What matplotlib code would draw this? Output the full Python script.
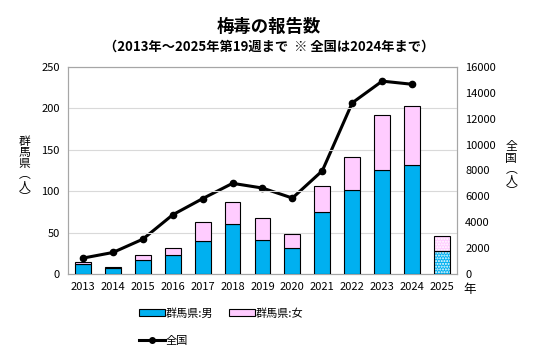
import matplotlib.pyplot as plt
from matplotlib.lines import Line2D
from matplotlib.patches import Patch

plt.rcParams['font.family'] = ['Noto Sans CJK JP', 'DejaVu Sans']

years = ["2013", "2014", "2015", "2016", "2017", "2018", "2019",
         "2020", "2021", "2022", "2023", "2024", "2025"]
gunma_male = [12, 7, 17, 23, 40, 60, 41, 31, 75, 102, 126, 132, 28]
gunma_female = [2, 2, 6, 8, 23, 27, 27, 17, 31, 39, 66, 71, 18]
national = [1228, 1661, 2690, 4575, 5826, 7007, 6642, 5867, 7978, 13228, 14906, 14663]

blue = "#00b0f0"
pink = "#ffccff"

fig = plt.figure(figsize=(5.38, 3.64), dpi=100)
ax = fig.add_axes([0.1264, 0.2473, 0.7230, 0.5687])
ax2 = ax.twinx()

x = list(range(len(years)))
w = 0.53
n = len(years) - 1

# 確定値
ax.bar(x[:n], gunma_male[:n], w, color=blue, edgecolor="black", linewidth=0.8, zorder=3)
ax.bar(x[:n], gunma_female[:n], w, bottom=gunma_male[:n], color=pink,
       edgecolor="black", linewidth=0.8, zorder=3)

# 2025年（速報）は網掛け
ax.bar(x[n], gunma_male[n], w, color=blue, edgecolor="white", hatch="......",
       linewidth=0, zorder=3)
ax.bar(x[n], gunma_female[n], w, bottom=gunma_male[n], color=pink, edgecolor="white",
       hatch="......", linewidth=0, zorder=3)
ax.bar(x[n], gunma_male[n], w, fill=False, edgecolor="black", linewidth=0.8, zorder=4)
ax.bar(x[n], gunma_female[n], w, bottom=gunma_male[n], fill=False,
       edgecolor="black", linewidth=0.8, zorder=4)

ax2.plot(x[:n], national, color="black", linewidth=2.2, marker="o", markersize=4.5, zorder=5)

ax.set_xlim(-0.5, len(years) - 0.5)
ax.set_ylim(0, 250)
ax.set_yticks(range(0, 251, 50))
ax2.set_ylim(0, 16000)
ax2.set_yticks(range(0, 16001, 2000))
ax.set_xticks(x)
ax.set_xticklabels(years)
ax.yaxis.grid(True, color="#d9d9d9", linewidth=0.8, zorder=0)
ax.set_axisbelow(True)
ax.set_zorder(ax2.get_zorder() + 1)
ax.patch.set_visible(False)

for a in (ax, ax2):
    a.tick_params(length=0, labelsize=8, pad=6)
    for s in a.spines.values():
        s.set_color("#a6a6a6")
        s.set_linewidth(0.8)

fig.text(0.5, 0.925, "梅毒の報告数", ha="center", va="center", fontsize=12.5, fontweight="bold")
fig.text(0.5, 0.872, "（2013年～2025年第19週まで  ※ 全国は2024年まで）",
         ha="center", va="center", fontsize=9.5, fontweight="bold")

fig.text(0.045, 0.535, "\n".join("群馬県︵人︶"), ha="center", va="center",
         fontsize=8.5, linespacing=0.82)
fig.text(0.950, 0.535, "\n".join("全国︵人︶"), ha="center", va="center",
         fontsize=8.5, linespacing=0.82)
fig.text(0.872, 0.205, "年", ha="center", va="center", fontsize=9)

handles = [Patch(facecolor=blue, edgecolor="black", linewidth=0.8),
           Line2D([], [], color="black", linewidth=2.2, marker="o", markersize=4),
           Patch(facecolor=pink, edgecolor="black", linewidth=0.8)]
labels = ["群馬県:男", "全国", "群馬県:女"]
fig.legend(handles, labels, ncol=2, loc="center left", bbox_to_anchor=(0.24, 0.102),
           frameon=False, fontsize=8, handlelength=2.3, handleheight=0.6,
           handletextpad=0.1, columnspacing=1.4, labelspacing=1.5)

fig.savefig("out.png", dpi=100)
